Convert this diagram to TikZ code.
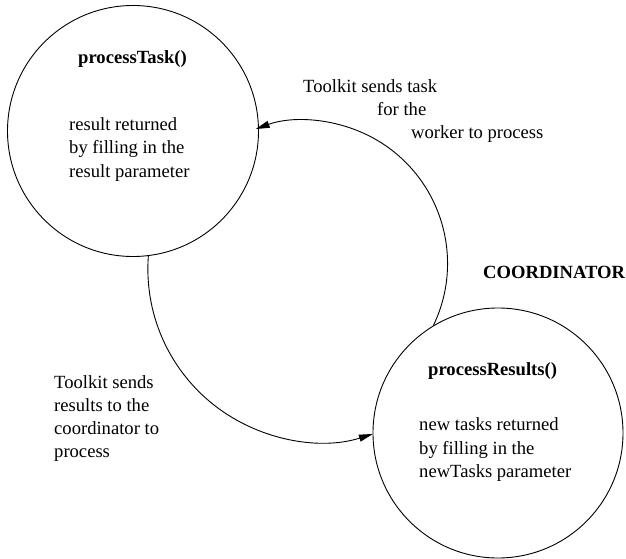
\documentclass[tikz,border=0pt]{standalone}
\usepackage{fontspec}
\setmainfont{Liberation Serif}
\usetikzlibrary{arrows.meta}
\begin{document}
\begin{tikzpicture}[x=1pt,y=1pt,
  every node/.style={font=\fontsize{18.6}{23.3}\selectfont},
  bubble/.style={circle, draw, line width=0.9pt, inner sep=0pt},
  lbl/.style={anchor=base west, inner sep=0pt},
  flow/.style={line width=0.9pt, -{Triangle[length=14pt,width=7pt]}}]
\useasboundingbox (0,0) rectangle (626,-559);

% the two callbacks
\node[bubble, minimum size=251pt] (c1) at (133,-131) {};
\node[bubble, minimum size=250pt] (c2) at (498,-433) {};

% text inside the worker bubble
\node[lbl] (t1) at (78,-63.3) {\textbf{processTask()}};
\node[lbl] (b1) at (69,-130.7)
  {\begin{tabular}[t]{@{}l@{}}result returned\\by filling in the\\result parameter\end{tabular}};

% text inside the coordinator bubble
\node[lbl] (t2) at (428,-375.7) {\textbf{processResults()}};
\node[lbl] (b2) at (419,-430.7)
  {\begin{tabular}[t]{@{}l@{}}new tasks returned\\by filling in the\\newTasks parameter\end{tabular}};

\node[lbl] (coord) at (483,-278) {\textbf{COORDINATOR}};

% labels of the two flows
\node[lbl] (s1) at (303,-93) {Toolkit sends task};
\node[lbl] (s2) at (377,-116) {for the};
\node[lbl] (s3) at (411,-139) {worker to process};

\node[lbl] (r1) at (54,-388)
  {\begin{tabular}[t]{@{}l@{}}Toolkit sends\\results to the\\coordinator to\\process\end{tabular}};

% task flow: coordinator -> worker
\draw[flow] (c2.121) arc[start angle=-25.7, end angle=110, radius=143pt];
% result flow: worker -> coordinator
\draw[flow] (c1.-83.6) arc[start angle=175.7, end angle=287.5, radius=173pt];
\end{tikzpicture}
\end{document}
